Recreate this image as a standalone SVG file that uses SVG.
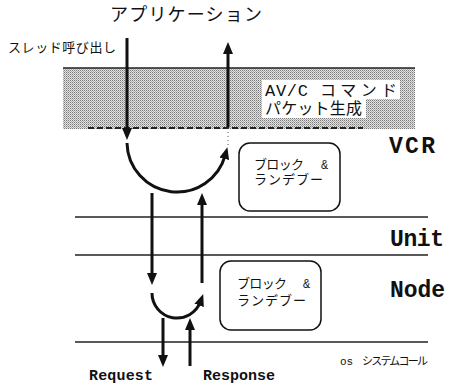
<svg xmlns="http://www.w3.org/2000/svg" width="457" height="384" viewBox="0 0 457 384">
<style>
.jp{font-family:"Noto Sans CJK JP","Liberation Sans",sans-serif;fill:#111}
.mono{font-family:"Liberation Mono","Noto Sans CJK JP",monospace;fill:#111}
.lbl{font-family:"Liberation Mono",monospace;font-weight:bold;fill:#111}
.arr{fill:none;stroke:#111;stroke-width:3}
.rule{stroke:#222;stroke-width:1.5}
.box{fill:#fff;stroke:#111;stroke-width:1.5}
</style>
<defs>
<pattern id="dots" width="2" height="2" patternUnits="userSpaceOnUse">
<rect width="2" height="2" fill="#e2e2e2"/>
<rect width="1" height="1" fill="#7a7a7a"/>
<rect x="1" y="1" width="1" height="1" fill="#acacac"/>
</pattern>
<marker id="ah" markerUnits="userSpaceOnUse" markerWidth="12" markerHeight="10" viewBox="0 0 12 10" refX="4" refY="5" orient="auto">
<path d="M0,0 L12,5 L0,10 z" fill="#111"/>
</marker>
</defs>

<g id="app-layer">
<text class="jp" x="110" y="21" font-size="18" textLength="152">アプリケーション</text>
<text class="jp" x="8" y="52" font-size="13" textLength="108">スレッド呼び出し</text>
</g>

<g id="packet-layer">
<rect x="63" y="68" width="352" height="61" fill="url(#dots)"/>
<line x1="63" y1="68" x2="415" y2="68" stroke="#222" stroke-width="1.5"/>
<line x1="88" y1="128" x2="363" y2="128" stroke="#222" stroke-width="2" stroke-dasharray="6,3"/>
<rect x="262" y="80" width="138" height="19" fill="#fff"/>
<rect x="262" y="99" width="104" height="19" fill="#fff"/>
<text class="jp" font-size="16"><tspan class="mono" x="265" y="96" font-size="17" textLength="43">AV/C</tspan><tspan x="320" y="96" textLength="77">コマンド</tspan><tspan x="265" y="114" textLength="97">パケット生成</tspan></text>
</g>

<g id="layers">
<line class="rule" x1="75" y1="217" x2="428" y2="217"/>
<line class="rule" x1="75" y1="255" x2="428" y2="255"/>
<line class="rule" x1="75" y1="342" x2="428" y2="342"/>
<text class="lbl" x="389" y="153" font-size="23" textLength="46">VCR</text>
<text class="lbl" x="390" y="246" font-size="23" textLength="54">Unit</text>
<text class="lbl" x="390" y="297" font-size="23" textLength="55">Node</text>
<text class="jp" font-size="11"><tspan class="mono" x="340" y="365">os</tspan><tspan x="362" y="365" textLength="66">システムコール</tspan></text>
<text class="lbl" x="89" y="380" font-size="15" textLength="64">Request</text>
<text class="lbl" x="203" y="380" font-size="15" textLength="72">Response</text>
</g>

<g id="vcr-block">
<rect class="box" x="239" y="143" width="101" height="68" rx="11"/>
<text class="jp" font-size="13"><tspan x="254" y="169" textLength="50">ブロック</tspan><tspan class="mono" x="321" y="169" font-size="12">&amp;</tspan><tspan x="254" y="184" textLength="69">ランデブー</tspan></text>
</g>

<g id="node-block">
<rect class="box" x="220" y="261" width="101" height="69" rx="11"/>
<text class="jp" font-size="13"><tspan x="237" y="288" textLength="50">ブロック</tspan><tspan class="mono" x="303" y="288" font-size="12">&amp;</tspan><tspan x="237" y="305" textLength="69">ランデブー</tspan></text>
</g>

<g id="connectors">
<line class="arr" x1="127" y1="38" x2="127" y2="132" marker-end="url(#ah)"/>
<line class="arr" x1="228" y1="127" x2="228" y2="50" marker-end="url(#ah)"/>
<line x1="228" y1="128" x2="228" y2="146" stroke="#555" stroke-width="1" stroke-dasharray="1,3"/>
<path class="arr" d="M127,143 A50,50 0 0,0 225.3,154.9" marker-end="url(#ah)"/>
<line class="arr" x1="152" y1="193" x2="152" y2="277" marker-end="url(#ah)"/>
<line class="arr" x1="202" y1="283" x2="202" y2="201" marker-end="url(#ah)"/>
<path class="arr" d="M152,293 A25,25 0 0,0 200.5,301.6" marker-end="url(#ah)"/>
<line class="arr" x1="163" y1="318" x2="163" y2="359" marker-end="url(#ah)"/>
<line class="arr" x1="190" y1="366" x2="190" y2="326" marker-end="url(#ah)"/>
</g>
</svg>
